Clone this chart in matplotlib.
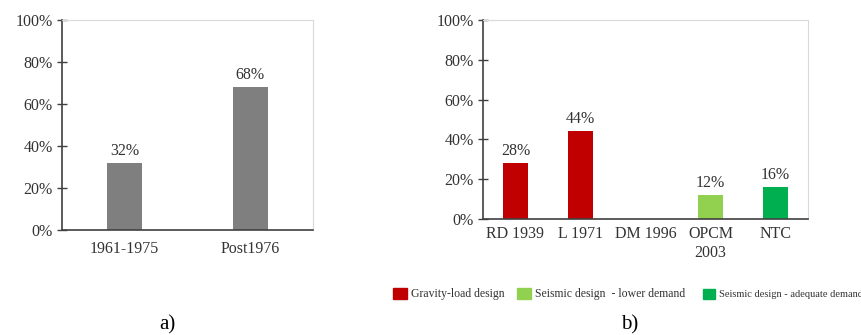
import matplotlib
matplotlib.use("Agg")
import matplotlib.pyplot as plt
from matplotlib.ticker import PercentFormatter

plt.rcParams["font.family"] = ["Liberation Serif", "DejaVu Serif"]

# Panel a) - construction period
periods = ["1961-1975", "Post1976"]
period_share = [32, 68]

# Panel b) - seismic code in force
codes = ["RD 1939", "L 1971", "DM 1996", "OPCM\n2003", "NTC"]
code_share = [28, 44, 0, 12, 16]
code_class = [0, 0, 0, 1, 2]

class_names = ["Gravity-load design",
               "Seismic design  - lower demand",
               "Seismic design - adequate demand"]
class_colors = ["#c00000", "#92d050", "#00b050"]
gray = "#7f7f7f"
text_col = "#333333"

fig = plt.figure(figsize=(8.61, 3.35), dpi=100)
ax1 = fig.add_axes([62 / 861, 1 - 230 / 335, 251 / 861, 210 / 335])
ax2 = fig.add_axes([483 / 861, 1 - 219 / 335, 325 / 861, 199 / 335])


def style(ax):
    ax.set_ylim(0, 100)
    ax.set_yticks(range(0, 101, 20))
    ax.yaxis.set_major_formatter(PercentFormatter(decimals=0))
    for s in ("top", "right"):
        ax.spines[s].set_color("#d9d9d9")
        ax.spines[s].set_linewidth(0.8)
    for s in ("left", "bottom"):
        ax.spines[s].set_color("#404040")
        ax.spines[s].set_linewidth(1.2)
    ax.tick_params(axis="y", direction="inout", length=7, width=1,
                   color="#404040", labelsize=11.5, labelcolor=text_col, pad=3)
    ax.tick_params(axis="x", length=0, labelsize=11.5, labelcolor=text_col, pad=8)


def label_bars(ax, bars, values):
    for b, v in zip(bars, values):
        if v == 0:
            continue
        ax.annotate(f"{v}%", (b.get_x() + b.get_width() / 2, v),
                    xytext=(0, 3), textcoords="offset points",
                    ha="center", va="bottom", fontsize=11.5, color=text_col)


# a)
x1 = range(len(periods))
bars1 = ax1.bar(x1, period_share, width=0.28, color=gray)
ax1.set_xlim(-0.5, len(periods) - 0.5)
ax1.set_xticks(list(x1))
ax1.set_xticklabels(periods)
style(ax1)
label_bars(ax1, bars1, period_share)

# b)
x2 = range(len(codes))
bars2 = ax2.bar(x2, code_share, width=0.37,
                color=[class_colors[c] for c in code_class])
ax2.set_xlim(-0.5, len(codes) - 0.5)
ax2.set_xticks(list(x2))
ax2.set_xticklabels(codes, linespacing=1.25, va="top")
style(ax2)
ax2.tick_params(axis="x", pad=5)
label_bars(ax2, bars2, code_share)

# legend entries placed individually below panel b)
legend_x = [393, 517, 703]
legend_fs = [8.5, 8.5, 7.5]
for name, col, lx, fs in zip(class_names, class_colors, legend_x, legend_fs):
    h = plt.Rectangle((0, 0), 1, 1, color=col)
    fig.legend(handles=[h], labels=[name], loc="center left",
               bbox_to_anchor=(lx / 861, 1 - 294 / 335), frameon=False,
               borderpad=0, borderaxespad=0, handlelength=1.15,
               handleheight=1.15, handletextpad=0.35, fontsize=fs,
               labelcolor=text_col)

fig.text(167 / 861, 1 - 325 / 335, "a)", ha="center", va="center", fontsize=15)
fig.text(630 / 861, 1 - 325 / 335, "b)", ha="center", va="center", fontsize=15)

fig.savefig("out.png", dpi=100)
